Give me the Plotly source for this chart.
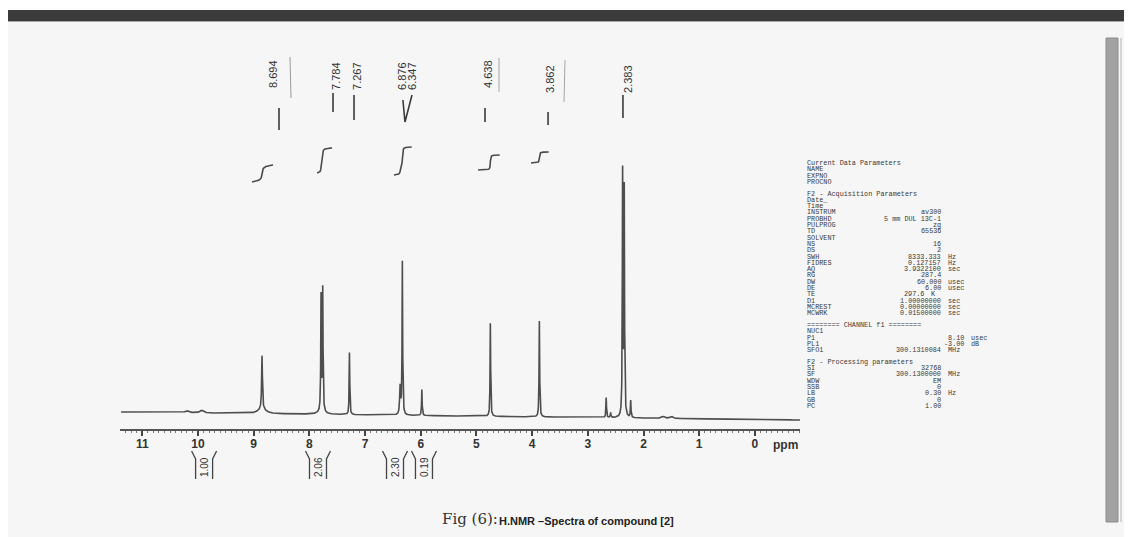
import numpy as np
import plotly.graph_objects as go

# ---------------- data ----------------
# spectrum peaks (ppm, height above baseline, half width)
peak_ppm = [10.20, 9.93, 8.85, 8.85, 7.790, 7.760, 7.775, 7.28, 6.37, 6.33, 5.98,
            4.75, 3.87, 2.67, 2.59, 2.375, 2.346, 2.23, 1.65, 1.50]
peak_height = [2.0, 2.5, 53, 5, 114, 121, 4, 62, 28, 153, 26,
               93, 96, 20, 5, 243, 226, 17, 2, 2]
peak_hwhm = [0.04, 0.04, 0.008, 0.08, 0.006, 0.006, 0.05, 0.006, 0.01, 0.006, 0.006,
             0.006, 0.006, 0.006, 0.006, 0.006, 0.006, 0.006, 0.03, 0.03]
baseline_ends = [1.0, -7.0]          # baseline level at left / right end of trace

# integral curves: ppm region, base level, rise
int_start = [9.03, 7.86, 6.48, 4.97, 4.02]
int_end = [8.65, 7.59, 6.16, 4.58, 3.70]
int_base = [231, 240, 238, 243, 250]
int_rise = [17, 25, 28, 15, 11]

# peak labels on top
label_text = ["8.694", "7.784", "7.267", "6.876", "6.347", "4.638", "3.862", "2.383"]
label_text_ppm = [8.653, 7.522, 7.145, 6.337, 6.157, 4.792, 3.679, 2.279]
label_text_bottom = [90, 92, 92, 92, 92, 90, 95, 95]      # pixel row of text start
label_line_ppm = [8.545, 7.575, 7.198, 4.846, 3.714, 2.369]
label_line_top = [108, 93, 95, 108, 112, 95]
label_line_bot = [130, 112, 120, 122, 125, 118]
vshape_ppm = [6.320, 6.283, 6.157]        # left arm top, apex, right arm top
vshape_rows = [100, 122, 95]

# integral values below the axis
ival_text = ["1.00", "2.06", "2.30", "0.19"]
ival_ppm = [9.89, 7.845, 6.462, 5.942]

# axis ticks
tick_vals = list(range(0, 12))
tick_text = [str(v) for v in tick_vals]
unit_ppm = -0.558

# acquisition / processing parameter block
params = [
    ("Current Data Parameters", "", ""),
    ("NAME", "", ""), ("EXPNO", "", ""), ("PROCNO", "", ""),
    None,
    ("F2 - Acquisition Parameters", "", ""),
    ("Date_", "", ""), ("Time", "", ""),
    ("INSTRUM", "av300", ""), ("PROBHD", "5 mm DUL 13C-1", ""),
    ("PULPROG", "zg", ""), ("TD", "65536", ""), ("SOLVENT", "", ""),
    ("NS", "16", ""), ("DS", "2", ""),
    ("SWH", "8333.333", "Hz"), ("FIDRES", "0.127157", "Hz"),
    ("AQ", "3.9322100", "sec"), ("RG", "287.4", ""),
    ("DW", "60.000", "usec"), ("DE", "6.00", "usec"), ("TE", "297.6", "K"),
    ("D1", "1.00000000", "sec"), ("MCREST", "0.00000000", "sec"),
    ("MCWRK", "0.01500000", "sec"),
    None,
    ("======== CHANNEL f1 ========", "", ""),
    ("NUC1", "", ""), ("P1", "8.10", "usec"), ("PL1", "-3.00", "dB"),
    ("SFO1", "300.1310084", "MHz"),
    None,
    ("F2 - Processing parameters", "", ""),
    ("SI", "32768", ""), ("SF", "300.1300000", "MHz"), ("WDW", "EM", ""),
    ("SSB", "0", ""), ("LB", "0.30", "Hz"), ("GB", "0", ""), ("PC", "1.00", ""),
]
value_right_override = {"TE": 925, "P1": 965, "PL1": 965}

# ---------------- layout geometry (reference pixel space) ----------------
OFF = 8                          # page body margin of the html page
W, H = 1132 - OFF, 537 - OFF     # figure size
PL, PR = 120, 800                # plot area in reference pixels
X0, X1 = 11.40, -0.81
BASE_ROW = 413                   # reference row of value 0
YR = [BASE_ROW - 537, BASE_ROW - OFF]
AXIS_ROW = 430
PPM_PER_PX = (X0 - X1) / (PR - PL)


def vy(row):
    return BASE_ROW - row


def px(xp):
    return (xp - PL) / (PR - PL)


def py(row):
    return 1 - (row - OFF) / H


# ---------------- spectrum ----------------
x = np.arange(11.38, -0.81, -0.002)
x = np.sort(np.concatenate([x, np.array(peak_ppm)]))[::-1]
base = baseline_ends[0] + (baseline_ends[1] - baseline_ends[0]) * (11.38 - x) / (11.38 + 0.81)
sig = np.zeros_like(x)
for c, h, w in zip(peak_ppm, peak_height, peak_hwhm):
    sig += h * w * w / ((x - c) ** 2 + w * w)
y = base + sig

fig = go.Figure()
fig.add_trace(go.Scatter(x=x, y=y, mode="lines", line=dict(color="#4e4e4e", width=1.6),
                         hoverinfo="skip"))

# integrals
ix, iy = [], []
for a, b, b0, r in zip(int_start, int_end, int_base, int_rise):
    m = (x <= a) & (x >= b)
    cum = np.cumsum(sig[m])
    cum = cum / cum[-1]
    ix += list(x[m]) + [None]
    iy += list(b0 + r * cum) + [None]
fig.add_trace(go.Scatter(x=ix, y=iy, mode="lines", line=dict(color="#4a4a4a", width=1.6),
                         hoverinfo="skip"))

# label lines
lx, ly = [], []
for p, t, b in zip(label_line_ppm, label_line_top, label_line_bot):
    lx += [p, p, None]
    ly += [vy(t), vy(b), None]
lx += vshape_ppm + [None]
ly += [vy(r) for r in vshape_rows] + [None]
fig.add_trace(go.Scatter(x=lx, y=ly, mode="lines", line=dict(color="#3a3a3a", width=1.6),
                         hoverinfo="skip"))

# integral value brackets below axis
half = 8.5 * PPM_PER_PX
hook = 12.5 * PPM_PER_PX
bx, byy = [], []
for c in ival_ppm:
    bx += [c + hook, c + half, c + half, None, c - hook, c - half, c - half, None]
    byy += [vy(451), vy(459), vy(479), None, vy(451), vy(459), vy(479), None]
fig.add_trace(go.Scatter(x=bx, y=byy, mode="lines", line=dict(color="#444", width=1.3),
                         hoverinfo="skip"))

annotations = []
for t, p, b in zip(label_text, label_text_ppm, label_text_bottom):
    annotations.append(dict(x=p, y=vy(b), xref="x", yref="y", text=t, textangle=-90,
                            showarrow=False, xanchor="center", yanchor="bottom",
                            font=dict(family="Liberation Sans", size=11, color="#333")))
for t, c in zip(ival_text, ival_ppm):
    annotations.append(dict(x=c, y=vy(467), xref="x", yref="y", text=t, textangle=-90,
                            showarrow=False, xanchor="center", yanchor="middle",
                            font=dict(family="Liberation Sans", size=10, color="#333")))
annotations.append(dict(x=unit_ppm, y=vy(445), xref="x", yref="y", text="ppm",
                        showarrow=False, xanchor="center", yanchor="middle",
                        font=dict(family="Liberation Sans", size=12, color="#333", weight="bold")))

# caption
annotations.append(dict(x=px(440), y=py(519), xref="paper", yref="paper", text="Fig (6):",
                        showarrow=False, xanchor="left", yanchor="middle",
                        font=dict(family="DejaVu Serif", size=15, color="#333")))
annotations.append(dict(x=px(497), y=py(521), xref="paper", yref="paper",
                        text="H.NMR \u2013Spectra of compound [2]", showarrow=False,
                        xanchor="left", yanchor="middle",
                        font=dict(family="Liberation Sans", size=11, color="#222", weight="bold")))

# parameter block
pf = dict(family="Liberation Mono", size=6.8, color="#3a3a3a")
i = 0
gaps = 0
for item in params:
    if item is None:
        gaps += 1
        continue
    row = 163 + 6.3 * (i + 0.85 * gaps)
    lab, val, unit = item
    annotations.append(dict(x=px(806), y=py(row), xref="paper", yref="paper", text=lab,
                            showarrow=False, xanchor="left", yanchor="middle", font=pf,
                            borderpad=0))
    rv = value_right_override.get(lab, 942)
    if val:
        annotations.append(dict(x=px(rv), y=py(row), xref="paper", yref="paper", text=val,
                                showarrow=False, xanchor="right", yanchor="middle", font=pf,
                                borderpad=0))
    if unit:
        annotations.append(dict(x=px(rv + 5), y=py(row), xref="paper", yref="paper", text=unit,
                                showarrow=False, xanchor="left", yanchor="middle", font=pf,
                                borderpad=0))
    i += 1

shapes = [
    # dark scan band along the top
    dict(type="rect", xref="paper", yref="paper", x0=px(OFF), x1=px(1132), y0=py(10), y1=py(21),
         fillcolor="#3b3b3b", line=dict(width=0)),
    dict(type="rect", xref="paper", yref="paper", x0=px(OFF), x1=px(1132), y0=py(OFF), y1=py(10),
         fillcolor="#ffffff", line=dict(width=0)),
    dict(type="line", xref="paper", yref="paper", x0=px(OFF), x1=px(1132), y0=py(21.5), y1=py(21.5),
         line=dict(color="#a8a8a8", width=1)),
    # right edge border and hatched stripe
    dict(type="line", xref="paper", yref="paper", x0=px(1129.5), x1=px(1129.5), y0=py(10), y1=py(537),
         line=dict(color="#333", width=2)),
    dict(type="rect", xref="paper", yref="paper", x0=px(1106), x1=px(1118), y0=py(38), y1=py(522),
         fillcolor="#a2a2a2", line=dict(color="#8c8c8c", width=1)),
    dict(type="line", xref="paper", yref="paper", x0=px(1121), x1=px(1121), y0=py(38), y1=py(522),
         line=dict(color="#b4b4b4", width=1)),
    # faint scan marks near labels
    dict(type="line", xref="paper", yref="paper", x0=px(290), x1=px(291), y0=py(57), y1=py(98),
         line=dict(color="#9a9a9a", width=1)),
    dict(type="line", xref="paper", yref="paper", x0=px(499), x1=px(499), y0=py(58), y1=py(92),
         line=dict(color="#a5a5a5", width=1)),
    dict(type="line", xref="paper", yref="paper", x0=px(565), x1=px(564), y0=py(60), y1=py(102),
         line=dict(color="#a5a5a5", width=1)),
]

minor_vals = [round(v / 10, 1) for v in range(-8, 114) if v % 10 != 0]

fig.update_layout(
    width=W, height=H,
    margin=dict(l=PL - OFF, r=1132 - PR, t=0, b=0, pad=0),
    paper_bgcolor="#f6f6f6", plot_bgcolor="#f6f6f6",
    showlegend=False,
    annotations=annotations, shapes=shapes,
    xaxis=dict(range=[X0, X1], anchor="free", position=py(AXIS_ROW), side="bottom",
               showline=True, linecolor="#555", linewidth=1.5,
               ticks="outside", ticklen=5, tickwidth=1.5, tickcolor="#444",
               tickmode="array", tickvals=tick_vals, ticktext=tick_text,
               ticklabelstandoff=-2,
               tickfont=dict(family="Liberation Sans", size=12, color="#333", weight="bold"),
               minor=dict(tickmode="array", tickvals=minor_vals, ticks="outside", ticklen=2,
                          tickwidth=1, tickcolor="#777", showgrid=False),
               showgrid=False, zeroline=False, fixedrange=True),
    yaxis=dict(range=YR, visible=False, fixedrange=True),
)

fig.write_html("out.html")
